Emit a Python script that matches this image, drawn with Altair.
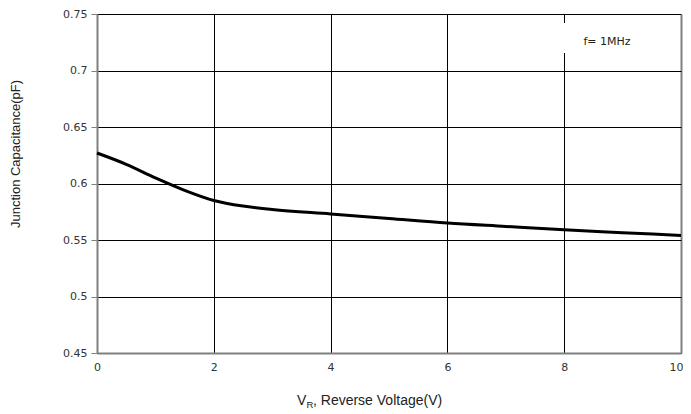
import altair as alt
import pandas as pd

voltage = [0, 0.5, 1, 1.5, 2, 2.5, 3, 4, 5, 6, 7, 8, 9, 10]
capacitance = [0.627, 0.617, 0.605, 0.594, 0.585, 0.580, 0.577, 0.573, 0.569, 0.565, 0.562, 0.559, 0.5565, 0.554]
x_ticks = [0, 2, 4, 6, 8, 10]
y_ticks = [0.45, 0.5, 0.55, 0.6, 0.65, 0.7, 0.75]
note = "f= 1MHz"

df = pd.DataFrame({"v": voltage, "c": capacitance})
FONT = "DejaVu Sans"
TFONT = "Liberation Sans"
LABEL = "#333333"

x_scale = alt.Scale(domain=[0, 10], nice=False, zero=False)
y_scale = alt.Scale(domain=[0.45, 0.75], nice=False, zero=False)

line = alt.Chart(df).mark_line(color="black", strokeWidth=3, interpolate="monotone").encode(
    x=alt.X("v:Q", scale=x_scale,
            axis=alt.Axis(values=x_ticks, title=None, grid=True,
                          gridColor={"condition": {"test": "datum.value == 10", "value": "#808080"}, "value": "black"},
                          gridWidth={"condition": {"test": "datum.value == 10", "value": 2}, "value": 1},
                          domainColor="#808080", domainWidth=2, ticks=False, labelPadding=8,
                          labelFlush=False,
                          labelAlign={"condition": {"test": "datum.value == 10", "value": "right"}, "value": "center"},
                          labelOffset={"condition": {"test": "datum.value == 10", "value": 2}, "value": 0},
                          labelFont=FONT, labelFontSize=11, labelColor=LABEL)),
    y=alt.Y("c:Q", scale=y_scale,
            axis=alt.Axis(values=y_ticks, title=None, grid=True, gridColor="black", gridWidth=1,
                          domainColor="#808080", domainWidth=2, tickColor="#808080", tickSize=6,
                          labelPadding=4, labelFlush=False, labelFont=FONT, labelFontSize=11,
                          labelColor=LABEL, format="~g")),
)

box = alt.Chart(pd.DataFrame({"t": [note]})).mark_rect(color="white").encode(
    x=alt.value(463), x2=alt.value(553), y=alt.value(9), y2=alt.value(39)
)
box_text = alt.Chart(pd.DataFrame({"t": [note]})).mark_text(
    font=FONT, fontSize=11, color="#222222", align="center", baseline="middle"
).encode(x=alt.value(510), y=alt.value(28), text="t:N")

ytitle = alt.Chart(pd.DataFrame({"t": ["Junction Capacitance(pF)"]})).mark_text(
    font=TFONT, fontSize=13, color="#222222", angle=270, align="center", baseline="middle"
).encode(x=alt.value(-81), y=alt.value(140), text="t:N")

xt_v = alt.Chart(pd.DataFrame({"t": ["V"]})).mark_text(
    font=TFONT, fontSize=14, color="#222222", align="left", baseline="alphabetic"
).encode(x=alt.value(200), y=alt.value(391), text="t:N")
xt_r = alt.Chart(pd.DataFrame({"t": ["R"]})).mark_text(
    font=TFONT, fontSize=9.5, color="#222222", align="left", baseline="alphabetic"
).encode(x=alt.value(209.5), y=alt.value(394), text="t:N")
xt_rest = alt.Chart(pd.DataFrame({"t": [", Reverse  Voltage(V)"]})).mark_text(
    font=TFONT, fontSize=14, color="#222222", align="left", baseline="alphabetic"
).encode(x=alt.value(216), y=alt.value(391), text="t:N")

chart = alt.layer(line, box, box_text, ytitle, xt_v, xt_r, xt_rest).properties(
    width=584, height=339,
    autosize=alt.AutoSizeParams(type="none"),
    padding={"left": 89, "top": 6, "right": 2, "bottom": 60},
).configure_view(stroke="#808080", strokeWidth=2).configure(background="white")

chart.save("out.html", embed_options={"renderer": "svg", "actions": False})
